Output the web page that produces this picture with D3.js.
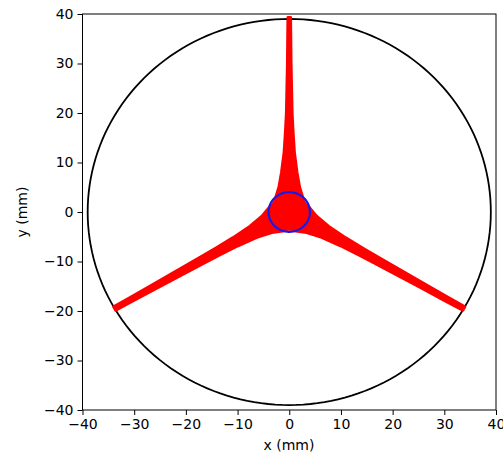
<!DOCTYPE html>
<html><head><meta charset="utf-8">
<script src="https://cdn.jsdelivr.net/npm/d3@7"></script>
<style>body{margin:0;background:#fff}svg{display:block}text{font-family:"DejaVu Sans",sans-serif;fill:#000}</style>
</head><body><svg id="c" width="503" height="455"></svg>
<script>
// Data (mm)
const xTicks = [-40,-30,-20,-10,0,10,20,30,40];
const yTicks = [-40,-30,-20,-10,0,10,20,30,40];
const outerRadius = 39;
const innerRadius = 4;
const coreRadius = 3.8;
const armAngles = [90, 210, 330];
// radial distance and half-width profile of each arm, mm
const upArmR  = [0, 3, 5, 8, 12, 16, 20, 25, 30, 35, 39.3];
const upArmHW = [3.0, 2.6, 2.0, 1.5, 1.0, 0.75, 0.55, 0.45, 0.35, 0.3, 0.25];
const lowArmR  = [0, 3, 5, 8, 12, 16, 20, 25, 30, 35, 39];
const lowArmHW = [3.0, 2.7, 1.9, 1.3, 0.95, 0.8, 0.7, 0.6, 0.5, 0.45, 0.4];

const svg = d3.select("#c");
const x = d3.scaleLinear().domain([-40,40]).range([82.5,496]);
const y = d3.scaleLinear().domain([-40,40]).range([410,14]);

// outer circle
const circ = d3.range(0, 361, 2).map(a => [Math.cos(a*Math.PI/180), Math.sin(a*Math.PI/180)]);
const ringLine = r => d3.line().x(d => x(r*d[0])).y(d => y(r*d[1]))(circ);
svg.append("path").attr("d", ringLine(outerRadius)).attr("fill","none").attr("stroke","#000").attr("stroke-width",1.8);

// arms
const armLine = d3.line().x(d => x(d[0])).y(d => y(d[1]));
armAngles.forEach((deg, i) => {
  const R = i === 0 ? upArmR : lowArmR, HW = i === 0 ? upArmHW : lowArmHW;
  const t = deg*Math.PI/180, ux = Math.cos(t), uy = Math.sin(t), nx = -uy, ny = ux;
  const left = R.map((r,k) => [r*ux + HW[k]*nx, r*uy + HW[k]*ny]);
  const right = R.map((r,k) => [r*ux - HW[k]*nx, r*uy - HW[k]*ny]).reverse();
  svg.append("path").attr("d", armLine(left.concat(right)) + "Z")
    .attr("fill","#ff0000").attr("stroke","#ff0000").attr("stroke-width",3).attr("stroke-linejoin","round");
});

// core
svg.append("path").attr("d", ringLine(coreRadius)).attr("fill","#ff0000");
svg.append("path").attr("d", ringLine(innerRadius)).attr("fill","none").attr("stroke","#1a1ae6").attr("stroke-width",2.2);

// axes
const fmt = d => d < 0 ? "\u2212" + Math.abs(d) : String(d);
const gx = svg.append("g").attr("transform","translate(0,410)")
  .call(d3.axisBottom(x).tickValues(xTicks).tickFormat(fmt).tickSize(5).tickPadding(4));
const gy = svg.append("g").attr("transform","translate(82.5,0)")
  .call(d3.axisLeft(y).tickValues(yTicks).tickFormat(fmt).tickSize(5).tickPadding(4));
[gx, gy].forEach(g => {
  g.select(".domain").remove();
  g.selectAll("line").attr("stroke","#000").attr("stroke-width",1);
  g.selectAll("text").attr("font-size",14).attr("font-family","DejaVu Sans").attr("fill","#000");
});
svg.append("rect").attr("x",82.5).attr("y",14).attr("width",496-82.5).attr("height",410-14)
  .attr("fill","none").attr("stroke","#000").attr("stroke-width",1);

svg.append("text").attr("x",289).attr("y",450).attr("text-anchor","middle").attr("font-size",14).text("x (mm)");
svg.append("text").attr("transform","translate(27,212) rotate(-90)").attr("text-anchor","middle").attr("font-size",14).text("y (mm)");
</script></body></html>
